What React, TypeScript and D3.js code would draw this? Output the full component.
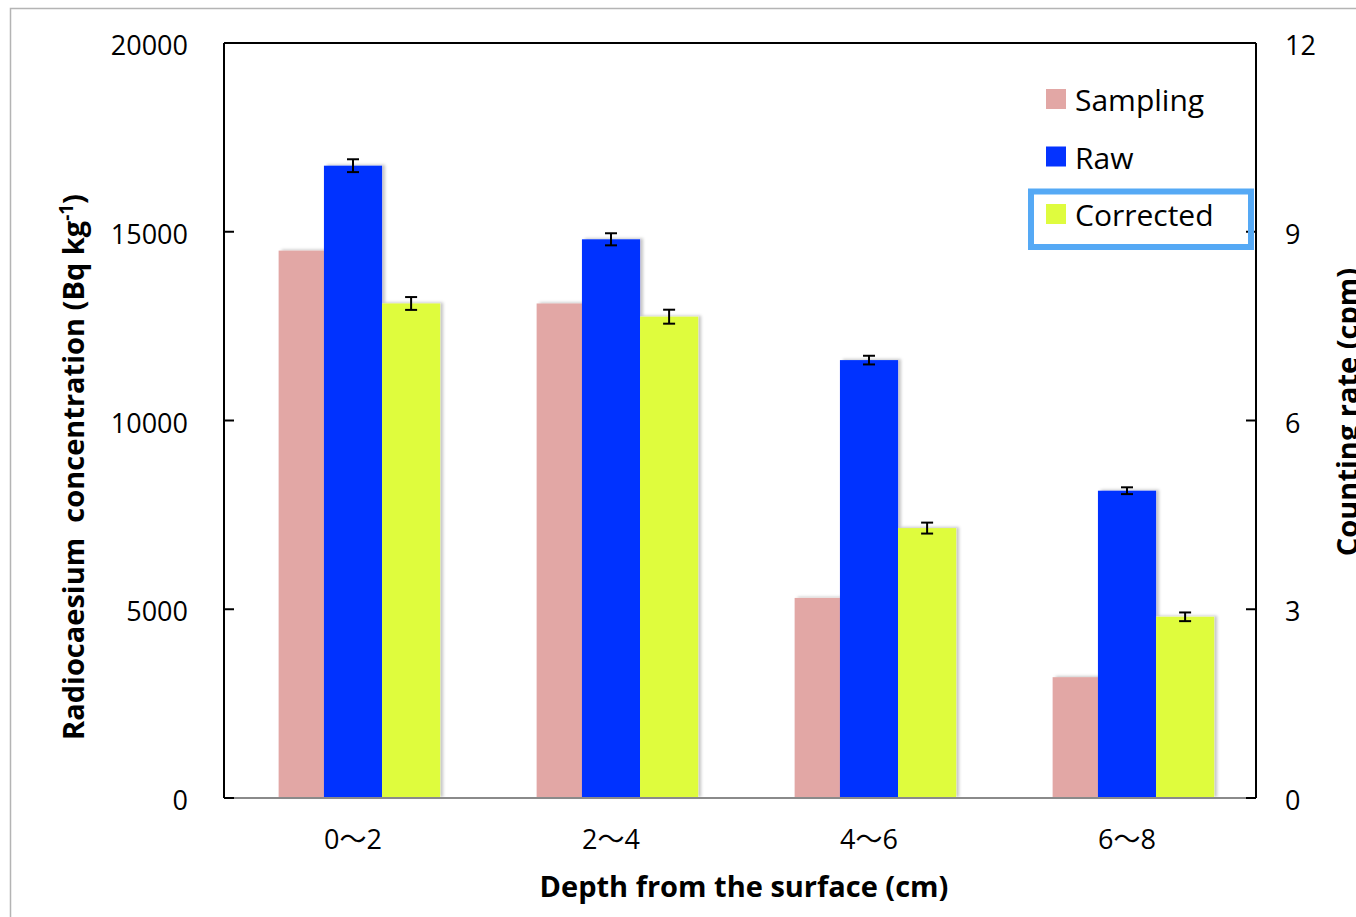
import React from "react";
import * as d3 from "d3";

const categories = ["0～2", "2～4", "4～6", "6～8"];
const samplingValues = [14500, 13100, 5300, 3200];
const rawValues = [16750, 14800, 11600, 8140];
const rawErrors = [170, 160, 115, 90];
const correctedValues = [13100, 12750, 7150, 4800];
const correctedErrors = [170, 185, 145, 115];
const leftTicks = [0, 5000, 10000, 15000, 20000];
const rightTicks = [0, 3, 6, 9, 12];
const legendItems = ["Sampling", "Raw", "Corrected"];

const W = 1356;
const H = 917;
const M = { left: 224, right: 1256, top: 43, bottom: 798 };
const COLORS: Record<string, string> = {
  Sampling: "#e2a7a5",
  Raw: "#0433ff",
  Corrected: "#dffc3e",
};
const FONT = "'Open Sans', 'Noto Sans', 'Noto Sans CJK JP', sans-serif";

export default function App() {
  const x = d3.scaleBand<string>().domain(categories).range([M.left, M.right]).padding(0);
  const inner = d3
    .scaleBand<string>()
    .domain(["_", "Raw", "Corrected"])
    .range([0, x.bandwidth()])
    .paddingInner(0)
    .paddingOuter(0.72);
  const y = d3.scaleLinear().domain([0, 20000]).range([M.bottom, M.top]);
  const y2 = d3.scaleLinear().domain([0, 12]).range([M.bottom, M.top]);
  const bw = inner.bandwidth();
  const sw = bw * 0.78;

  const bars: { key: string; x: number; w: number; v: number; e?: number }[] = [];
  categories.forEach((c, i) => {
    const x0 = x(c)!;
    bars.push({ key: "Sampling", x: x0 + inner("Raw")! - sw, w: sw, v: samplingValues[i] });
    bars.push({ key: "Raw", x: x0 + inner("Raw")!, w: bw, v: rawValues[i], e: rawErrors[i] });
    bars.push({ key: "Corrected", x: x0 + inner("Corrected")!, w: bw, v: correctedValues[i], e: correctedErrors[i] });
  });

  const legendX = 1046;
  const legendY0 = 89;
  const legendStep = 57.5;

  return (
    <svg width={W} height={H} style={{ position: "absolute", left: 0, top: 0, background: "#fff" }} fontFamily={FONT}>
      <defs>
        <filter id="sh" x="-20%" y="-20%" width="140%" height="140%">
          <feDropShadow dx="3" dy="-1" stdDeviation="1.5" floodColor="#000" floodOpacity="0.22" />
        </filter>
      </defs>
      <rect x={0} y={0} width={W} height={H} fill="#fff" />
      {/* outer chart border */}
      <path d={`M10.5,${H} L10.5,8.5 L${W},8.5`} fill="none" stroke="#b4b4b4" strokeWidth={1.5} />

      {/* bars */}
      <g filter="url(#sh)">
        {bars
          .filter((b) => b.key === "Sampling")
          .map((b, i) => (
            <rect key={"s" + i} x={b.x} y={y(b.v)} width={b.w} height={M.bottom - y(b.v)} fill={COLORS[b.key]} />
          ))}
      </g>
      <g filter="url(#sh)">
        {bars
          .filter((b) => b.key !== "Sampling")
          .map((b, i) => (
            <rect key={"b" + i} x={b.x} y={y(b.v)} width={b.w} height={M.bottom - y(b.v)} fill={COLORS[b.key]} />
          ))}
      </g>
      {/* error bars */}
      {bars
        .filter((b) => b.e !== undefined)
        .map((b, i) => {
          const cx = b.x + b.w / 2;
          const t = y(b.v + b.e!);
          const bt = y(b.v - b.e!);
          return (
            <g key={"e" + i} stroke="#000" strokeWidth={2}>
              <line x1={cx} x2={cx} y1={t} y2={bt} />
              <line x1={cx - 6} x2={cx + 6} y1={t} y2={t} />
              <line x1={cx - 6} x2={cx + 6} y1={bt} y2={bt} />
            </g>
          );
        })}

      {/* axes frame */}
      <line x1={M.left} x2={M.right} y1={M.bottom} y2={M.bottom} stroke="#8a8a8a" strokeWidth={2} />
      <line x1={M.left} x2={M.right} y1={M.top} y2={M.top} stroke="#000" strokeWidth={2} />
      <line x1={M.left} x2={M.left} y1={M.top} y2={M.bottom} stroke="#000" strokeWidth={2} />
      <line x1={M.right} x2={M.right} y1={M.top} y2={M.bottom} stroke="#000" strokeWidth={2} />

      {/* left ticks */}
      {leftTicks.map((t) => (
        <g key={"l" + t}>
          <line x1={M.left} x2={M.left + 10} y1={y(t)} y2={y(t)} stroke="#000" strokeWidth={2} />
          <text x={188} y={y(t) + 12} textAnchor="end" fontSize={27} fill="#000">
            {t}
          </text>
        </g>
      ))}
      {/* right ticks */}
      {rightTicks.map((t) => (
        <g key={"r" + t}>
          <line x1={M.right - 10} x2={M.right} y1={y2(t)} y2={y2(t)} stroke="#000" strokeWidth={2} />
          <text x={1285} y={y2(t) + 12} textAnchor="start" fontSize={27} fill="#000">
            {t}
          </text>
        </g>
      ))}
      {/* category labels */}
      {categories.map((c) => (
        <text key={c} x={x(c)! + x.bandwidth() / 2} y={849} textAnchor="middle" fontSize={27} fill="#000">
          {c}
        </text>
      ))}

      {/* axis titles */}
      <text x={744} y={897} textAnchor="middle" fontSize={29} fontWeight="bold" fill="#000">
        Depth from the surface (cm)
      </text>
      <text
        transform={`translate(84,467) rotate(-90)`}
        textAnchor="middle"
        fontSize={29}
        fontWeight="bold"
        fill="#000"
        style={{ whiteSpace: "pre" }}
      >
        {"Radiocaesium  concentration (Bq kg"}
        <tspan dy={-11} fontSize={19}>-1</tspan>
        <tspan dy={11}>)</tspan>
      </text>
      <text
        transform={`translate(1358,412) rotate(-90)`}
        textAnchor="middle"
        fontSize={29}
        fontWeight="bold"
        fill="#000"
      >
        Counting rate (cpm)
      </text>

      {/* legend */}
      {legendItems.map((k, i) => (
        <g key={k}>
          <rect x={legendX} y={legendY0 + i * legendStep} width={20} height={20} fill={COLORS[k]} />
          <text x={1075} y={legendY0 + i * legendStep + 22} fontSize={30} fill="#000">
            {k}
          </text>
        </g>
      ))}
      <rect x={1031} y={191.5} width={220} height={55.5} fill="none" stroke="#55a9f5" strokeWidth={6} />
    </svg>
  );
}
